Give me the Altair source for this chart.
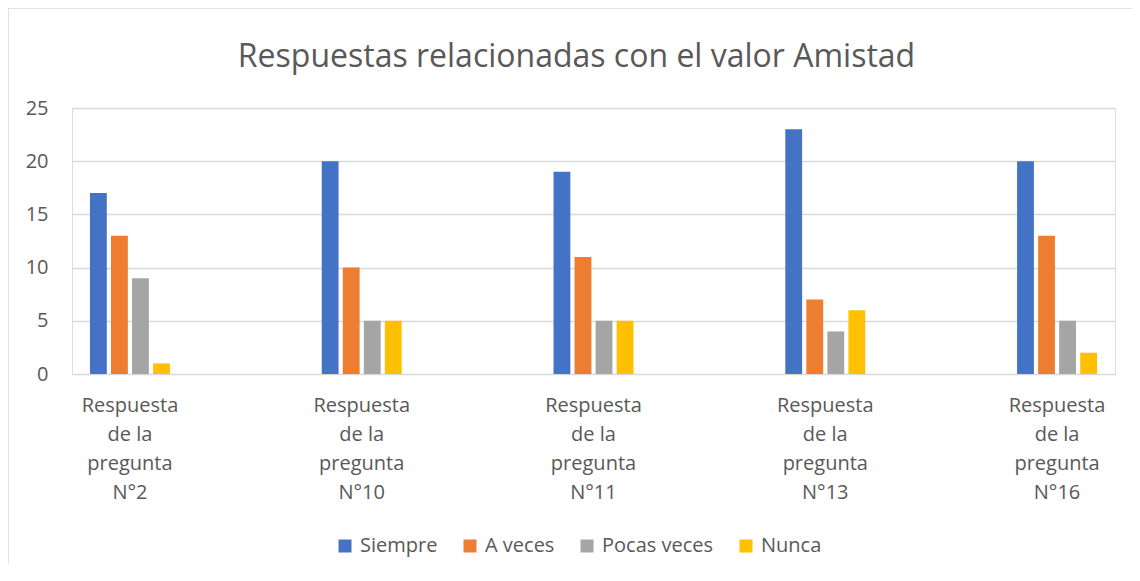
import altair as alt
import pandas as pd

preguntas = ["N°2", "N°10", "N°11", "N°13", "N°16"]
series = ["Siempre", "A veces", "Pocas veces", "Nunca"]
siempre = [17, 20, 19, 23, 20]
a_veces = [13, 10, 11, 7, 13]
pocas_veces = [9, 5, 5, 4, 5]
nunca = [1, 5, 5, 6, 2]
colores = ["#4472C4", "#ED7D31", "#A5A5A5", "#FFC000"]
y_ticks = [0, 5, 10, 15, 20, 25]

rows = []
for serie, vals in zip(series, [siempre, a_veces, pocas_veces, nunca]):
    for p, v in zip(preguntas, vals):
        rows.append({"pregunta": p, "serie": serie, "valor": v})
df = pd.DataFrame(rows)

FONT = "Open Sans"
TXT = "#595959"
GRID = "#D9D9D9"

bars = alt.Chart(df).mark_bar().encode(
    x=alt.X(
        "pregunta:N",
        sort=preguntas,
        scale=alt.Scale(paddingInner=0.655, paddingOuter=0.0775),
        axis=alt.Axis(
            title=None,
            labelAngle=0,
            labelExpr="['Respuesta', 'de la', 'pregunta', datum.label]",
            labelFont=FONT,
            labelFontSize=20,
            labelColor=TXT,
            labelLineHeight=29,
            labelPadding=21,
            ticks=False,
            domain=False,
            grid=False,
            labelBaseline="top",
        ),
    ),
    xOffset=alt.XOffset(
        "serie:N", sort=series, scale=alt.Scale(paddingInner=0.2, paddingOuter=0)
    ),
    y=alt.Y(
        "valor:Q",
        scale=alt.Scale(domain=[0, 25], nice=False),
        axis=alt.Axis(
            title=None,
            values=y_ticks,
            labelFont=FONT,
            labelFontSize=20,
            labelColor=TXT,
            labelPadding=24,
            ticks=False,
            domain=False,
            grid=True,
            gridColor=GRID,
            gridWidth=1.3,
        ),
    ),
    color=alt.Color(
        "serie:N",
        sort=series,
        scale=alt.Scale(domain=series, range=colores),
        legend=alt.Legend(
            title=None,
            orient="none",
            direction="horizontal",
            legendX=263,
            legendY=428,
            symbolType="square",
            symbolSize=169,
            symbolStrokeWidth=0,
            labelFont=FONT,
            labelFontSize=20,
            labelColor=TXT,
            labelOffset=5,
            columnPadding=22,
            padding=0,
        ),
    ),
)

border = alt.Chart(alt.Data(values=[{}])).mark_rect(
    fillOpacity=0, stroke=GRID, strokeWidth=1.5
).encode(
    x=alt.value(-64), x2=alt.value(1200), y=alt.value(-100), y2=alt.value(700)
)

chart = alt.layer(border, bars).properties(
    width=1043,
    height=266,
    title=alt.TitleParams(
        "Respuestas relacionadas con el valor Amistad",
        font=FONT,
        fontSize=32,
        fontWeight="normal",
        color=TXT,
        anchor="middle",
        baseline="alphabetic",
        dx=-17,
        offset=-92,
    ),
    autosize=alt.AutoSizeParams(type="none"),
    padding={"left": 64, "top": 100, "right": 17, "bottom": 190},
).configure_view(stroke=None).configure(background="white")

chart.save("out.html", embed_options={"renderer": "svg", "actions": False})
